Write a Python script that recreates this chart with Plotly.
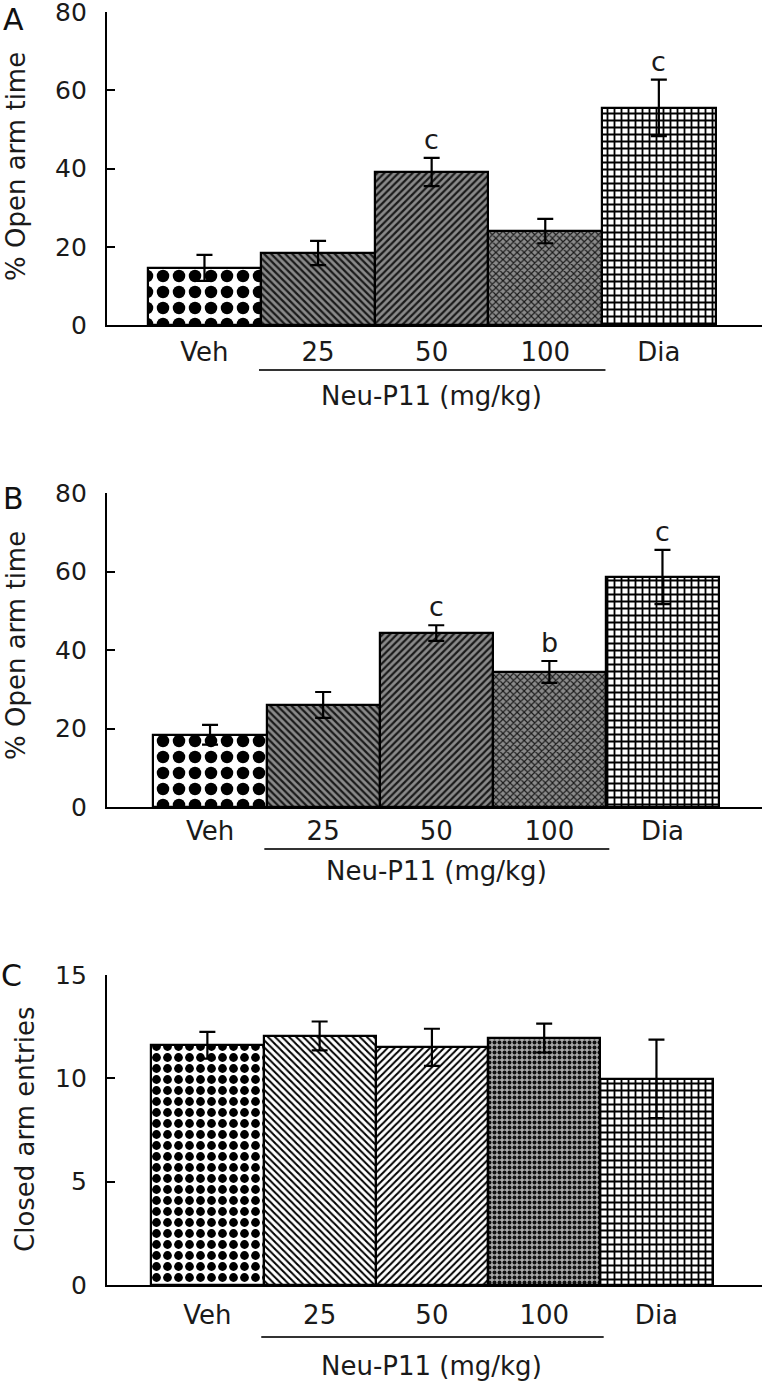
import plotly.graph_objects as go

W, H = 762, 1383

groups = ["Veh", "25", "50", "100", "Dia"]
xpos = [0, 1, 2, 3, 4]

a_mean = [14.6, 18.4, 39.1, 24.0, 55.5]
a_sem = [3.3, 3.1, 3.6, 3.1, 7.2]
a_sig = ["", "", "c", "", "c"]

b_mean = [18.4, 26.0, 44.3, 34.4, 58.6]
b_sem = [2.5, 3.3, 2.0, 2.8, 6.9]
b_sig = ["", "", "c", "b", "c"]

c_mean = [11.6, 12.05, 11.5, 11.95, 9.97]
c_sem = [0.65, 0.7, 0.9, 0.7, 1.9]

dose_label = "Neu-P11 (mg/kg)"
open_title = "% Open arm time"
closed_title = "Closed arm entries"

FONT = "DejaVu Sans"
TXT = "#1a1a1a"


def px_x(p):
    return p / W


def px_y(p):
    return 1 - p / H


# patterns
pat_ab = dict(
    shape=[".", "\\", "/", "x", "+"],
    fgcolor=["#000", "#1a1a1a", "#1a1a1a", "#1a1a1a", "#000"],
    bgcolor=["#fff", "#8a8a8a", "#8a8a8a", "#8a8a8a", "#fff"],
    fgopacity=1,
    size=[16, 5, 5, 5, 7],
    solidity=[0.48, 0.45, 0.45, 0.4, 0.45],
)
pat_c = dict(
    shape=[".", "\\", "/", ".", "+"],
    fgcolor=["#000", "#000", "#000", "#111", "#000"],
    bgcolor=["#fff", "#fff", "#fff", "#aaa", "#fff"],
    fgopacity=1,
    size=[11, 5, 5, 5, 7],
    solidity=[0.5, 0.4, 0.4, 0.5, 0.45],
)

fig = go.Figure()

panels = [
    dict(mean=a_mean, sem=a_sem, sig=a_sig, pat=pat_ab, xa="x", ya="y"),
    dict(mean=b_mean, sem=b_sem, sig=b_sig, pat=pat_ab, xa="x2", ya="y2"),
    dict(mean=c_mean, sem=c_sem, sig=None, pat=pat_c, xa="x3", ya="y3"),
]

for p in panels:
    fig.add_trace(go.Bar(
        x=xpos, y=p["mean"], width=1.0,
        marker=dict(color="#fff", pattern=p["pat"],
                    line=dict(color="#000", width=2.2)),
        error_y=dict(type="data", array=p["sem"], symmetric=True,
                     color="#000", thickness=2.2, width=8),
        xaxis=p["xa"], yaxis=p["ya"], showlegend=False,
    ))

# geometry (pixel positions from reference)
y_dom = [
    (px_y(325), px_y(12)),
    (px_y(807), px_y(493)),
    (px_y(1285), px_y(975)),
]
x_rng = [(-0.858, 4.908), (-0.911, 4.88), (-0.894, 4.94)]
y_rng = [(0, 80), (0, 80), (0, 15)]
y_ticks = [[0, 20, 40, 60, 80], [0, 20, 40, 60, 80], [0, 5, 10, 15]]
x_standoff = [3, 0, 6]

layout = dict(
    width=W, height=H,
    margin=dict(l=0, r=0, t=0, b=0, autoexpand=False),
    paper_bgcolor="white", plot_bgcolor="white",
    font=dict(family=FONT, size=26, color=TXT),
    bargap=0,
)
for i in range(3):
    sx = "" if i == 0 else str(i + 1)
    layout["xaxis" + sx] = dict(
        domain=[px_x(107), 1], range=list(x_rng[i]),
        anchor="y" + sx, tickvals=xpos, ticktext=groups,
        showline=True, linecolor="#000", linewidth=2.2,
        ticks="", showgrid=False, zeroline=False, automargin=False,
        tickfont=dict(size=26, family=FONT, color=TXT),
        ticklabelstandoff=x_standoff[i], ticklabeloverflow="allow",
    )
    layout["yaxis" + sx] = dict(
        domain=list(y_dom[i]), range=list(y_rng[i]),
        anchor="x" + sx, tickvals=y_ticks[i],
        showline=True, linecolor="#000", linewidth=2.2,
        ticks="inside", ticklen=8, tickwidth=2, tickcolor="#000",
        showgrid=False, zeroline=False, automargin=False,
        tickfont=dict(size=25, family=FONT, color=TXT),
        ticklabelstandoff=13, ticklabeloverflow="allow",
    )
fig.update_layout(**layout)

annotations = []
shapes = []

# significance letters
for p in panels[:2]:
    for xi, m, s, t in zip(xpos, p["mean"], p["sem"], p["sig"]):
        if t:
            annotations.append(dict(
                x=xi, y=m + s, xref=p["xa"], yref=p["ya"], text=t,
                showarrow=False, yanchor="bottom", yshift=1,
                font=dict(size=27, family=FONT, color=TXT),
            ))

# dose underline and label
under_y = [370, 849, 1337]
label_y = [396, 871, 1366]
for i, p in enumerate(panels):
    shapes.append(dict(
        type="line", xref=p["xa"], yref="paper",
        x0=0.48, x1=3.53, y0=px_y(under_y[i]), y1=px_y(under_y[i]),
        line=dict(color="#333", width=2),
    ))
    annotations.append(dict(
        x=2.0, y=px_y(label_y[i]), xref=p["xa"], yref="paper",
        text=dose_label, showarrow=False, xanchor="center", yanchor="middle",
        font=dict(size=26, family=FONT, color=TXT),
    ))

# y titles
for txt, xc, yc in [(open_title, 16, 167), (open_title, 16, 646), (closed_title, 25, 1130)]:
    annotations.append(dict(
        x=px_x(xc), y=px_y(yc), xref="paper", yref="paper", text=txt,
        textangle=-90, showarrow=False, xanchor="center", yanchor="middle",
        font=dict(size=26, family=FONT, color=TXT),
    ))

# panel letters
for txt, xc, yc in [("A", 13, 19), ("B", 13, 499), ("C", 11, 975)]:
    annotations.append(dict(
        x=px_x(xc), y=px_y(yc), xref="paper", yref="paper", text=txt,
        showarrow=False, xanchor="center", yanchor="middle",
        font=dict(size=30, family=FONT, color="#111"),
    ))

fig.update_layout(annotations=annotations, shapes=shapes)
fig.write_html(
    "out.html",
    config={"displayModeBar": False},
    post_script="document.body.style.margin='0px';document.body.style.overflow='hidden';",
)
